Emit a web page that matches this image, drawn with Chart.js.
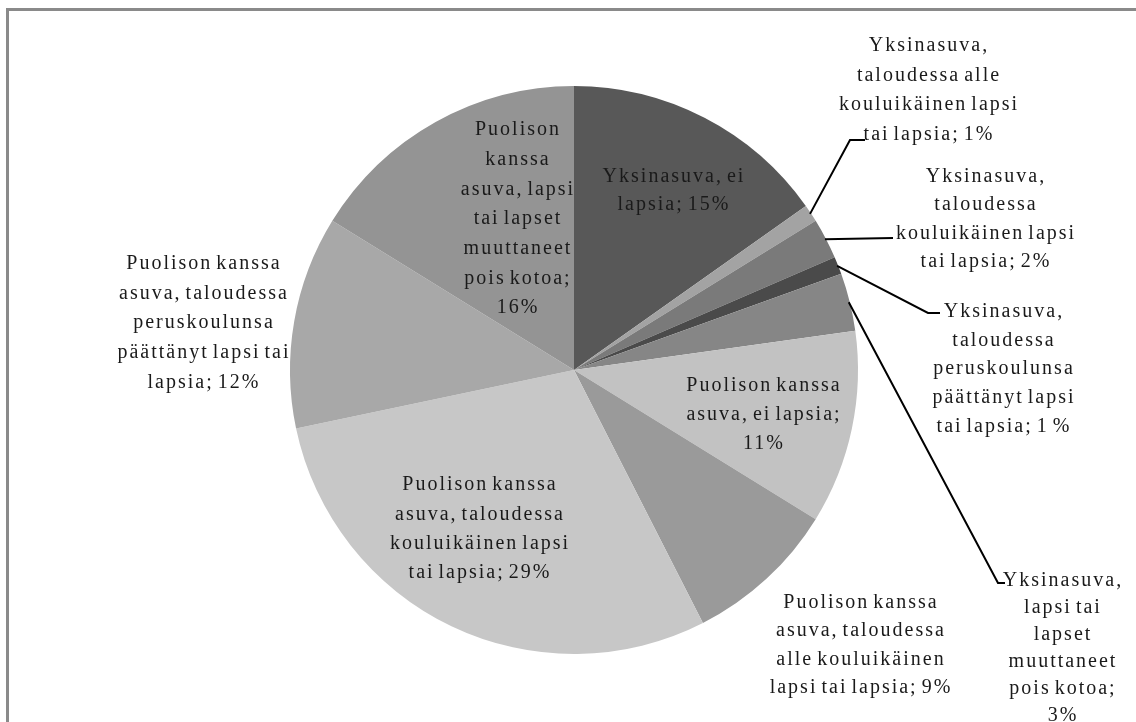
<!DOCTYPE html>
<html lang="fi">
<head>
<meta charset="UTF-8">
<title>Kotitalouden rakenne</title>
<script src="https://cdn.jsdelivr.net/npm/chart.js@4"></script>
<style>
  html, body { margin: 0; padding: 0; background: #fff; }
  #wrap { position: relative; width: 1136px; height: 722px; overflow: hidden; }
  #frame { position: absolute; left: 6px; top: 8px; width: 1300px; height: 900px;
           border-left: 3px solid #8a8a8a; border-top: 3px solid #8a8a8a; }
  canvas { position: absolute; left: 0; top: 0; }
</style>
</head>
<body>
<div id="wrap">
  <div id="frame"></div>
  <canvas id="pie" width="1136" height="722"></canvas>
</div>
<script>
// slice names, in drawing order (clockwise from 12 o'clock)
const categories = [
  "Yksinasuva, ei lapsia",
  "Yksinasuva, taloudessa alle kouluikäinen lapsi tai lapsia",
  "Yksinasuva, taloudessa kouluikäinen lapsi tai lapsia",
  "Yksinasuva, taloudessa peruskoulunsa päättänyt lapsi tai lapsia",
  "Yksinasuva, lapsi tai lapset muuttaneet pois kotoa",
  "Puolison kanssa asuva, ei lapsia",
  "Puolison kanssa asuva, taloudessa alle kouluikäinen lapsi tai lapsia",
  "Puolison kanssa asuva, taloudessa kouluikäinen lapsi tai lapsia",
  "Puolison kanssa asuva, taloudessa peruskoulunsa päättänyt lapsi tai lapsia",
  "Puolison kanssa asuva, lapsi tai lapset muuttaneet pois kotoa"
];

// shares
const shares = [15.2, 1.0, 2.3, 1.0, 3.3, 11.0, 8.7, 29.2, 12.1, 16.2];

// data labels exactly as printed (line breaks as in the picture)
const labelLines = [
  ["Yksinasuva, ei", "lapsia; 15%"],
  ["Yksinasuva,", "taloudessa alle", "kouluikäinen lapsi", "tai lapsia; 1%"],
  ["Yksinasuva,", "taloudessa", "kouluikäinen lapsi", "tai lapsia; 2%"],
  ["Yksinasuva,", "taloudessa", "peruskoulunsa", "päättänyt lapsi", "tai lapsia; 1 %"],
  ["Yksinasuva,", "lapsi tai", "lapset", "muuttaneet", "pois kotoa;", "3%"],
  ["Puolison kanssa", "asuva, ei lapsia;", "11%"],
  ["Puolison kanssa", "asuva, taloudessa", "alle kouluikäinen", "lapsi tai lapsia; 9%"],
  ["Puolison kanssa", "asuva, taloudessa", "kouluikäinen lapsi", "tai lapsia; 29%"],
  ["Puolison kanssa", "asuva, taloudessa", "peruskoulunsa", "päättänyt lapsi tai", "lapsia; 12%"],
  ["Puolison", "kanssa", "asuva, lapsi", "tai lapset", "muuttaneet", "pois kotoa;", "16%"]
];

const sliceColors = ["#585858", "#a3a3a3", "#7a7a7a", "#4a4a4a", "#868686",
                     "#c2c2c2", "#9a9a9a", "#c7c7c7", "#a8a8a8", "#949494"];

// label block centre relative to pie centre, and line height
const labelPos = [
  [99, -179, 28], [354, -280, 29.5], [411, -151, 28.5], [429, -1, 28.7], [488, 278, 27],
  [189, 45, 29], [286, 275, 28.5], [-95, 159, 29.3], [-371, -47, 29.7], [-57, -151, 29.7]
];
// leader line bends (relative to pie centre); null = no leader
const leaders = [
  null,
  [[276, -230], [291, -230]],
  [[319, -132]],
  [[354, -57], [366, -57]],
  [[424, 213], [431, 213]],
  null, null, null, null, null
];

const labelPlugin = {
  id: "pieLabels",
  afterDatasetsDraw(chart) {
    const ctx = chart.ctx;
    const arcs = chart.getDatasetMeta(0).data;
    ctx.save();
    // leader lines from the rim of the small slices
    ctx.strokeStyle = "#000";
    ctx.lineWidth = 2;
    arcs.forEach((arc, i) => {
      if (!leaders[i]) return;
      const p = arc.getProps(["x", "y", "startAngle", "endAngle", "outerRadius"], true);
      const mid = (p.startAngle + p.endAngle) / 2;
      ctx.beginPath();
      ctx.moveTo(p.x + Math.cos(mid) * (p.outerRadius - 1), p.y + Math.sin(mid) * (p.outerRadius - 1));
      leaders[i].forEach(pt => ctx.lineTo(p.x + pt[0], p.y + pt[1]));
      ctx.stroke();
    });
    // text
    ctx.fillStyle = "#1a1a1a";
    ctx.font = '20px "Liberation Serif", "Times New Roman", serif';
    if ("letterSpacing" in ctx) ctx.letterSpacing = "2px";
    if ("wordSpacing" in ctx) ctx.wordSpacing = "-3px";
    ctx.textAlign = "center";
    ctx.textBaseline = "middle";
    arcs.forEach((arc, i) => {
      const p = arc.getProps(["x", "y"], true);
      const [dx, dy, lh] = labelPos[i];
      const lines = labelLines[i];
      const top = p.y + dy - (lines.length - 1) * lh / 2;
      lines.forEach((t, k) => ctx.fillText(t, p.x + dx + 1, top + k * lh));
    });
    ctx.restore();
  }
};

new Chart(document.getElementById("pie"), {
  type: "pie",
  data: {
    labels: categories,
    datasets: [{
      data: shares,
      backgroundColor: sliceColors,
      borderWidth: 0
    }]
  },
  options: {
    responsive: false,
    animation: false,
    layout: { padding: { top: 86, bottom: 68, left: 200, right: 188 } },
    plugins: {
      legend: { display: false },
      tooltip: { enabled: false }
    }
  },
  plugins: [labelPlugin]
});
</script>
</body>
</html>
